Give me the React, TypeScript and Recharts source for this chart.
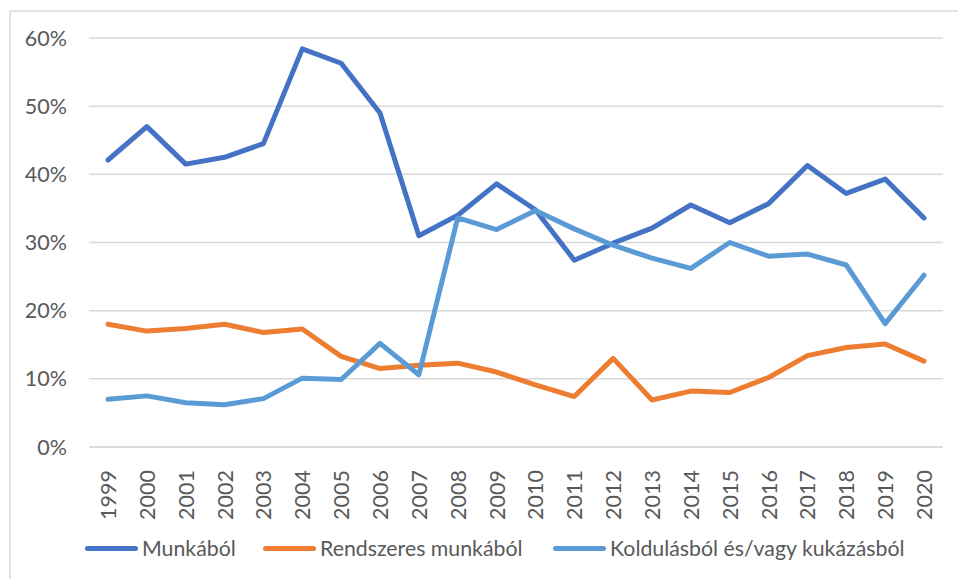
import { LineChart, Line, CartesianGrid, XAxis, YAxis } from "recharts";

const YEARS = [
  "1999", "2000", "2001", "2002", "2003", "2004", "2005", "2006", "2007", "2008", "2009",
  "2010", "2011", "2012", "2013", "2014", "2015", "2016", "2017", "2018", "2019", "2020",
];

const MUNKABOL = [
  42.1, 47.0, 41.5, 42.5, 44.5, 58.4, 56.3, 49.0, 31.0, 34.0, 38.6,
  34.8, 27.4, 29.9, 32.1, 35.5, 32.9, 35.7, 41.3, 37.2, 39.3, 33.6,
];

const RENDSZERES = [
  18.0, 17.0, 17.4, 18.0, 16.8, 17.3, 13.3, 11.5, 12.0, 12.3, 11.0,
  9.1, 7.4, 13.0, 6.9, 8.2, 8.0, 10.2, 13.4, 14.6, 15.1, 12.6,
];

const KOLDULAS = [
  7.0, 7.5, 6.5, 6.2, 7.1, 10.1, 9.9, 15.2, 10.6, 33.6, 31.9,
  34.7, 32.0, 29.6, 27.7, 26.2, 30.0, 28.0, 28.3, 26.7, 18.1, 25.2,
];

const Y_TICKS = [0, 10, 20, 30, 40, 50, 60];

const SERIES = [
  { key: "munkabol", name: "Munkából", color: "#4472C4" },
  { key: "rendszeres", name: "Rendszeres munkából", color: "#ED7D31" },
  { key: "koldulas", name: "Koldulásból és/vagy kukázásból", color: "#5B9BD5" },
];

// legend item left edges (px), matching the original layout
const LEGEND_LEFT = [85, 263, 553];

const FONT = "Lato, 'Open Sans', sans-serif";
const TEXT_COLOR = "#595959";

function YearTick({ x, y, payload }: any) {
  return (
    <text
      x={x}
      y={y + 15}
      transform={`rotate(-90, ${x}, ${y + 15})`}
      textAnchor="end"
      dominantBaseline="central"
      fill={TEXT_COLOR}
      fontSize={21.5}
      fontFamily={FONT}
    >
      {payload.value}
    </text>
  );
}

export default function App() {
  const data = YEARS.map((year, i) => ({
    year,
    munkabol: MUNKABOL[i],
    rendszeres: RENDSZERES[i],
    koldulas: KOLDULAS[i],
  }));

  return (
    <div
      style={{
        position: "fixed",
        left: 0,
        top: 0,
        width: 958,
        height: 579,
        background: "#fff",
        fontFamily: FONT,
        overflow: "hidden",
      }}
    >
      <div
        style={{
          position: "absolute",
          left: 9,
          top: 10,
          width: 980,
          height: 600,
          border: "2px solid #E3E3E3",
        }}
      />
      <div style={{ position: "absolute", left: 0, top: 0 }}>
        <LineChart
          width={958}
          height={579}
          data={data}
          margin={{ top: 38, right: 15, left: 0, bottom: 62 }}
        >
          <CartesianGrid stroke="#D9D9D9" strokeWidth={1.5} vertical={false} />
          <XAxis
            dataKey="year"
            interval={0}
            height={70}
            padding={{ left: 19, right: 19 }}
            axisLine={{ stroke: "#D9D9D9", strokeWidth: 1.5 }}
            tickLine={false}
            tick={<YearTick />}
          />
          <YAxis
            domain={[0, 60]}
            ticks={Y_TICKS}
            width={89}
            axisLine={false}
            tickLine={false}
            tickSize={0}
            tickMargin={22}
            tickFormatter={(v: number) => `${v}%`}
            tick={{ fill: TEXT_COLOR, fontSize: 21.5, fontFamily: FONT }}
          />
          {SERIES.map((s) => (
            <Line
              key={s.key}
              dataKey={s.key}
              name={s.name}
              stroke={s.color}
              strokeWidth={5}
              dot={false}
              type="linear"
              strokeLinejoin="round"
              strokeLinecap="round"
              isAnimationActive={false}
            />
          ))}
        </LineChart>
      </div>
      {SERIES.map((s, i) => (
        <div
          key={s.key}
          style={{
            position: "absolute",
            left: LEGEND_LEFT[i],
            top: 534,
            height: 28,
            display: "flex",
            alignItems: "center",
            fontSize: 21.3,
            color: TEXT_COLOR,
            whiteSpace: "nowrap",
          }}
        >
          <span
            style={{
              display: "inline-block",
              width: 53,
              height: 5,
              borderRadius: 3,
              background: s.color,
              marginRight: 4,
            }}
          />
          <span>{s.name}</span>
        </div>
      ))}
    </div>
  );
}
